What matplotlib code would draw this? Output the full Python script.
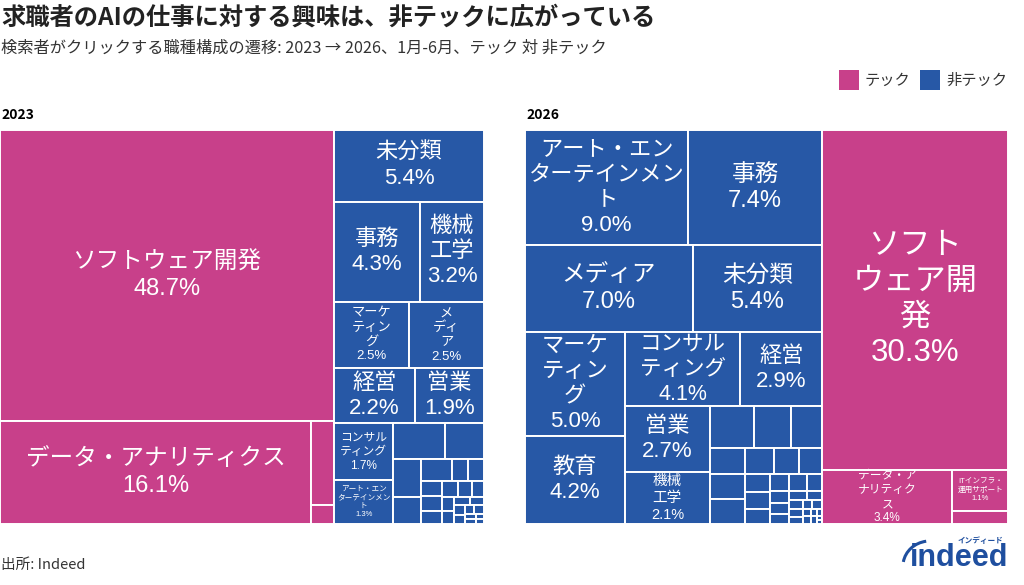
"""Treemap comparison: job categories clicked by AI job seekers, 2023 vs 2026."""

import matplotlib

matplotlib.use("Agg")
from matplotlib import pyplot as plt  # noqa: E402
from matplotlib.patches import Arc, Rectangle  # noqa: E402

plt.rcParams["font.family"] = ["Noto Sans CJK JP", "DejaVu Sans"]

TECH_COLOR = "#c8408a"
NONTECH_COLOR = "#2758a6"
LOGO_COLOR = "#1f4f9f"
LABEL_FONT = ["Liberation Sans", "Noto Sans CJK JP"]

# --- 2023 -------------------------------------------------------------
TECH_2023_NAMES = ["ソフトウェア開発", "データ・アナリティクス"]
TECH_2023_VALUES = [48.7, 16.1]
TECH_2023_OTHER = [0.95, 0.22]

NONTECH_2023_NAMES = ["未分類", "事務", "機械工学", "マーケティング", "メディア",
                      "経営", "営業", "コンサルティング", "アート・エンターテインメント"]
NONTECH_2023_VALUES = [5.4, 4.3, 3.2, 2.5, 2.5, 2.2, 1.9, 1.7, 1.3]
NONTECH_2023_OTHER = [0.94, 0.71, 0.52, 0.38, 0.33, 0.18, 0.17, 0.16, 0.15,
                      0.14, 0.13, 0.11, 0.10, 0.09, 0.08, 0.07, 0.06, 0.05,
                      0.05, 0.04, 0.04, 0.03, 0.03, 0.02, 0.02]

# --- 2026 -------------------------------------------------------------
TECH_2026_NAMES = ["ソフトウェア開発", "データ・アナリティクス", "ITインフラ・運用サポート"]
TECH_2026_VALUES = [30.3, 3.4, 1.1]
TECH_2026_OTHER = [0.35]

NONTECH_2026_NAMES = ["アート・エンターテインメント", "事務", "メディア", "未分類",
                      "マーケティング", "教育", "コンサルティング", "経営", "営業",
                      "機械工学"]
NONTECH_2026_VALUES = [9.0, 7.4, 7.0, 5.4, 5.0, 4.2, 4.1, 2.9, 2.7, 2.1]
NONTECH_2026_OTHER = [0.88, 0.74, 0.61, 0.45, 0.44, 0.42, 0.37, 0.32, 0.29,
                      0.21, 0.20, 0.18, 0.15, 0.14, 0.12, 0.11, 0.10, 0.09,
                      0.08, 0.07, 0.06, 0.05, 0.05, 0.04, 0.04, 0.03, 0.03,
                      0.02, 0.02, 0.02, 0.01, 0.01]

# wrapped label text and font size per cell
LABELS_2023 = {
    "ソフトウェア開発": ("ソフトウェア開発", 17),
    "データ・アナリティクス": ("データ・アナリティクス", 17),
    "未分類": ("未分類", 16),
    "事務": ("事務", 16),
    "機械工学": ("機械\n工学", 16),
    "マーケティング": ("マーケ\nティン\nグ", 9.5),
    "メディア": ("メ\nディ\nア", 9.5),
    "経営": ("経営", 16),
    "営業": ("営業", 16),
    "コンサルティング": ("コンサル\nティング", 8.5),
    "アート・エンターテインメント": ("アート・エン\nターテインメン\nト", 5.5),
}
LABELS_2026 = {
    "ソフトウェア開発": ("ソフト\nウェア開\n発", 22.5),
    "データ・アナリティクス": ("データ・ア\nナリティク\nス", 8.5),
    "ITインフラ・運用サポート": ("ITインフラ・\n運用サポート", 5.5),
    "アート・エンターテインメント": ("アート・エン\nターテインメン\nト", 16),
    "事務": ("事務", 17),
    "メディア": ("メディア", 17),
    "未分類": ("未分類", 17),
    "マーケティング": ("マーケ\nティン\nグ", 16),
    "教育": ("教育", 16),
    "コンサルティング": ("コンサル\nティング", 15.5),
    "経営": ("経営", 16),
    "営業": ("営業", 16),
    "機械工学": ("機械\n工学", 10.5),
}


def squarify(values, x0, y0, x1, y1):
    """Squarified tiling (d3 style, ratio 1). Returns (x, y, w, h) per value."""
    rects = []
    total = float(sum(values))
    i0, n = 0, len(values)
    while i0 < n:
        dx, dy = x1 - x0, y1 - y0
        row_sum = values[i0]
        lo = hi = row_sum
        alpha = max(dy / dx, dx / dy) / total
        beta = row_sum * row_sum * alpha
        best = max(hi / beta, beta / lo)
        i1 = i0 + 1
        while i1 < n:
            v = values[i1]
            s = row_sum + v
            lo2, hi2 = min(lo, v), max(hi, v)
            beta = s * s * alpha
            ratio = max(hi2 / beta, beta / lo2)
            if ratio > best:
                break
            row_sum, lo, hi, best = s, lo2, hi2, ratio
            i1 += 1
        row = values[i0:i1]
        if dx < dy:
            yk = y0 + dy * row_sum / total
            x = x0
            for v in row:
                w = dx * v / row_sum
                rects.append((x, y0, w, yk - y0))
                x += w
            y0 = yk
        else:
            xk = x0 + dx * row_sum / total
            y = y0
            for v in row:
                h = dy * v / row_sum
                rects.append((x0, y, xk - x0, h))
                y += h
            x0 = xk
        total -= row_sum
        i0 = i1
    return rects


def draw_treemap(ax, groups, labels):
    totals = [sum(g[2]) + sum(g[3]) for g in groups]
    order = sorted(range(len(groups)), key=lambda i: -totals[i])
    top = squarify([totals[i] for i in order], 0, 0, 1, 1)
    for gi, (gx, gy, gw, gh) in zip(order, top):
        color, names, values, others = groups[gi]
        items = list(zip(names, values)) + [(None, v) for v in others]
        items.sort(key=lambda t: -t[1])
        rects = squarify([v for _, v in items], gx, gy, gx + gw, gy + gh)
        for (name, value), (x, y, w, h) in zip(items, rects):
            ax.add_patch(Rectangle((x, y), w, h, facecolor=color,
                                   edgecolor="white", linewidth=1.4))
            if name in labels:
                text, size = labels[name]
                ax.text(x + w / 2, y + h / 2, f"{text}\n{value:.1f}%",
                        ha="center", va="center", multialignment="center",
                        color="white", fontsize=size, family=LABEL_FONT,
                        linespacing=1.25)
    ax.set_xlim(0, 1)
    ax.set_ylim(1, 0)
    ax.axis("off")


W, H = 1024, 585
fig = plt.figure(figsize=(W / 100, H / 100), dpi=100)

ax23 = fig.add_axes([0 / W, 1 - 524 / H, 484 / W, 394 / H])
draw_treemap(ax23, [
    (TECH_COLOR, TECH_2023_NAMES, TECH_2023_VALUES, TECH_2023_OTHER),
    (NONTECH_COLOR, NONTECH_2023_NAMES, NONTECH_2023_VALUES, NONTECH_2023_OTHER),
], LABELS_2023)

ax26 = fig.add_axes([525 / W, 1 - 524 / H, 483 / W, 394 / H])
draw_treemap(ax26, [
    (TECH_COLOR, TECH_2026_NAMES, TECH_2026_VALUES, TECH_2026_OTHER),
    (NONTECH_COLOR, NONTECH_2026_NAMES, NONTECH_2026_VALUES, NONTECH_2026_OTHER),
], LABELS_2026)

fig.text(1 / W, 1 - 18 / H, "求職者のAIの仕事に対する興味は、非テックに広がっている",
         fontsize=17.5, fontweight="bold", color="#222222", va="center")
fig.text(1 / W, 1 - 48 / H,
         "検索者がクリックする職種構成の遷移: 2023 → 2026、1月-6月、テック 対 非テック",
         fontsize=11.7, color="#333333", va="center")
fig.text(1 / W, 1 - 115 / H, "2023", fontsize=10, fontweight="bold", va="center")
fig.text(526 / W, 1 - 115 / H, "2026", fontsize=10, fontweight="bold", va="center")

# legend
for x, color, label in [(839, TECH_COLOR, "テック"), (920, NONTECH_COLOR, "非テック")]:
    fig.patches.append(Rectangle((x / W, 1 - 90 / H), 20 / W, 20 / H,
                                 facecolor=color, transform=fig.transFigure))
    fig.text((x + 26) / W, 1 - 80 / H, label, fontsize=11, color="#333333",
             va="center")

fig.text(1 / W, 1 - 565 / H, "出所: Indeed", fontsize=10.5, color="#333333",
         va="center")

# Indeed logo
fig.text(1008 / W, 1 - 558 / H, "indeed", ha="right", va="center", fontsize=22,
         fontweight="bold", color=LOGO_COLOR, family="Liberation Sans")
fig.text(1003 / W, 1 - 540 / H, "インディード", ha="right", va="center",
         fontsize=5.5, fontweight="bold", color=LOGO_COLOR)
fig.patches.append(Arc((930 / W, 1 - 566 / H), 54 / W, 50 / H, theta1=95,
                       theta2=165, color=LOGO_COLOR, linewidth=2.2,
                       transform=fig.transFigure))

fig.savefig("out.png", dpi=100)
